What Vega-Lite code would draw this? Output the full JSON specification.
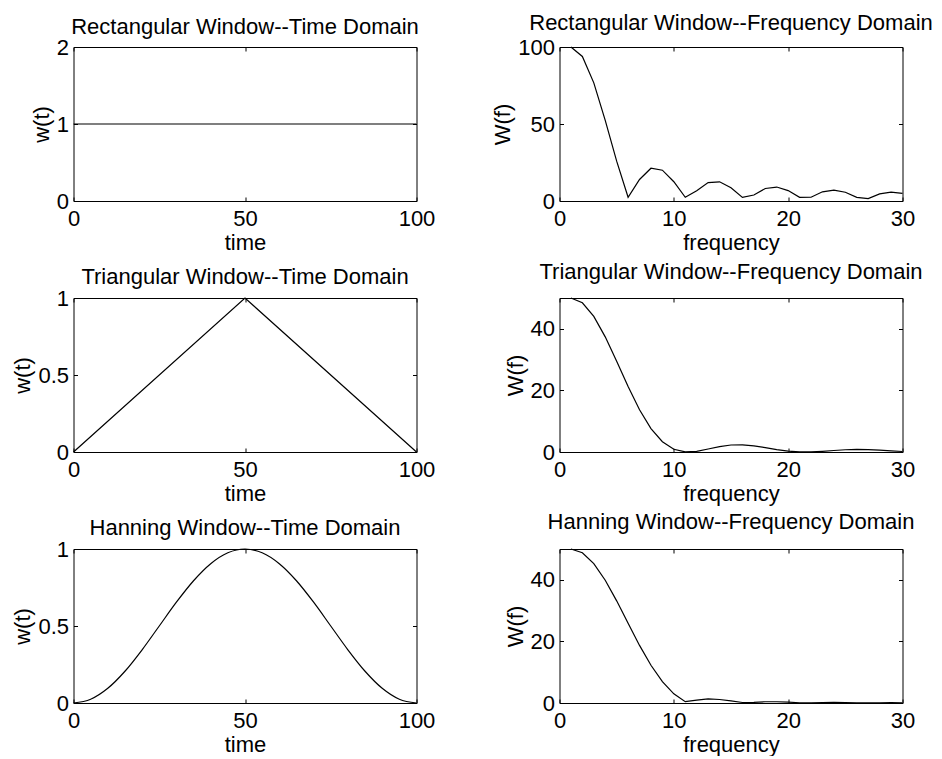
{
  "$schema": "https://vega.github.io/schema/vega-lite/v6.json",
  "padding": {"left": 10.5, "top": 11, "right": 0, "bottom": 0},
  "background": "white",
  "config": {
    "font": "Liberation Sans",
    "view": {"stroke": "black", "strokeWidth": 1},
    "title": {"font": "Liberation Sans", "fontSize": 22, "fontWeight": "normal", "color": "black", "offset": -2, "frame": "group"},
    "axis": {
      "labelFont": "Liberation Sans", "titleFont": "Liberation Sans",
      "labelFontSize": 22, "titleFontSize": 22, "titleFontWeight": "normal",
      "labelColor": "black", "titleColor": "black", "tickColor": "black",
      "tickSize": -4, "tickWidth": 1, "domain": false, "grid": false,
      "labelFlush": false, "labelOverlap": false, "labelBound": false,
      "minExtent": 0, "titlePadding": 3,
      "labelExpr": "toString(datum.value)"
    },
    "axisX": {"labelPadding": 11},
    "axisY": {"labelPadding": 9},
    "line": {"color": "black", "strokeWidth": 1.2, "clip": true}
  },
  "datasets": {
    "rectTime": [{"x": 0, "y": 1}, {"x": 100, "y": 1}],
    "rectFreq": [
      {"x": 1, "y": 100}, {"x": 2, "y": 93.84}, {"x": 3, "y": 76.72}, {"x": 4, "y": 52.36}, {"x": 5, "y": 25.85},
      {"x": 6, "y": 2.4}, {"x": 7, "y": 13.97}, {"x": 8, "y": 21.29}, {"x": 9, "y": 20.01}, {"x": 10, "y": 12.49},
      {"x": 11, "y": 2.39}, {"x": 12, "y": 6.67}, {"x": 13, "y": 11.99}, {"x": 14, "y": 12.46}, {"x": 15, "y": 8.64},
      {"x": 16, "y": 2.37}, {"x": 17, "y": 3.9}, {"x": 18, "y": 8.11}, {"x": 19, "y": 9.06}, {"x": 20, "y": 6.78},
      {"x": 21, "y": 2.37}, {"x": 22, "y": 2.44}, {"x": 23, "y": 5.97}, {"x": 24, "y": 7.11}, {"x": 25, "y": 5.67},
      {"x": 26, "y": 2.36}, {"x": 27, "y": 1.53}, {"x": 28, "y": 4.59}, {"x": 29, "y": 5.82}, {"x": 30, "y": 4.93}
    ],
    "triTime": [{"x": 0, "y": 0}, {"x": 50, "y": 1}, {"x": 100, "y": 0}],
    "triFreq": [
      {"x": 1, "y": 50}, {"x": 2, "y": 48.45}, {"x": 3, "y": 44.03}, {"x": 4, "y": 37.39}, {"x": 5, "y": 29.44},
      {"x": 6, "y": 21.23}, {"x": 7, "y": 13.71}, {"x": 8, "y": 7.61}, {"x": 9, "y": 3.34}, {"x": 10, "y": 0.905},
      {"x": 11, "y": 0.029}, {"x": 12, "y": 0.234}, {"x": 13, "y": 0.977}, {"x": 14, "y": 1.767}, {"x": 15, "y": 2.271},
      {"x": 16, "y": 2.339}, {"x": 17, "y": 2.007}, {"x": 18, "y": 1.42}, {"x": 19, "y": 0.783}, {"x": 20, "y": 0.29},
      {"x": 21, "y": 0.029}, {"x": 22, "y": 0.031}, {"x": 23, "y": 0.223}, {"x": 24, "y": 0.493}, {"x": 25, "y": 0.723},
      {"x": 26, "y": 0.828}, {"x": 27, "y": 0.781}, {"x": 28, "y": 0.608}, {"x": 29, "y": 0.376}, {"x": 30, "y": 0.161}
    ],
    "hannTime": [
      {"x": 0, "y": 0}, {"x": 5, "y": 0.02447}, {"x": 10, "y": 0.09549}, {"x": 15, "y": 0.20611}, {"x": 20, "y": 0.34549},
      {"x": 25, "y": 0.5}, {"x": 30, "y": 0.65451}, {"x": 35, "y": 0.79389}, {"x": 40, "y": 0.90451}, {"x": 45, "y": 0.97553},
      {"x": 50, "y": 1}, {"x": 55, "y": 0.97553}, {"x": 60, "y": 0.90451}, {"x": 65, "y": 0.79389}, {"x": 70, "y": 0.65451},
      {"x": 75, "y": 0.5}, {"x": 80, "y": 0.34549}, {"x": 85, "y": 0.20611}, {"x": 90, "y": 0.09549}, {"x": 95, "y": 0.02447},
      {"x": 100, "y": 0}
    ],
    "hannFreq": [
      {"x": 1, "y": 50}, {"x": 2, "y": 48.78}, {"x": 3, "y": 45.27}, {"x": 4, "y": 39.86}, {"x": 5, "y": 33.17},
      {"x": 6, "y": 25.87}, {"x": 7, "y": 18.7}, {"x": 8, "y": 12.24}, {"x": 9, "y": 6.94}, {"x": 10, "y": 2.99},
      {"x": 11, "y": 0.425}, {"x": 12, "y": 0.921}, {"x": 13, "y": 1.333}, {"x": 14, "y": 1.142}, {"x": 15, "y": 0.666},
      {"x": 16, "y": 0.156}, {"x": 17, "y": 0.222}, {"x": 18, "y": 0.404}, {"x": 19, "y": 0.398}, {"x": 20, "y": 0.265},
      {"x": 21, "y": 0.083}, {"x": 22, "y": 0.077}, {"x": 23, "y": 0.17}, {"x": 24, "y": 0.185}, {"x": 25, "y": 0.135},
      {"x": 26, "y": 0.051}, {"x": 27, "y": 0.031}, {"x": 28, "y": 0.085}, {"x": 29, "y": 0.1}, {"x": 30, "y": 0.079}
    ]
  },
  "columns": 2,
  "bounds": "flush",
  "spacing": {"row": 97, "column": 143},
  "concat": [
    {
      "title": {"text": "Rectangular Window--Time Domain", "offset": -3},
      "width": 343, "height": 154,
      "data": {"name": "rectTime"},
      "layer": [
        {"mark": {"type": "line"},
         "encoding": {
           "x": {"field": "x", "type": "quantitative", "scale": {"domain": [0, 100], "nice": false}, "axis": {"values": [0, 50, 100], "title": "time"}},
           "y": {"field": "y", "type": "quantitative", "scale": {"domain": [0, 2], "nice": false}, "axis": {"values": [0, 1, 2], "title": "w(t)"}}
         }},
        {"mark": {"type": "line", "strokeOpacity": 0},
         "encoding": {
           "x": {"field": "x", "type": "quantitative", "scale": {"domain": [0, 100], "nice": false}, "axis": {"orient": "top", "values": [0, 50, 100], "labels": false, "title": null}},
           "y": {"field": "y", "type": "quantitative", "scale": {"domain": [0, 2], "nice": false}, "axis": {"orient": "right", "values": [0, 1, 2], "labels": false, "title": null}}
         }}
      ],
      "resolve": {"axis": {"x": "independent", "y": "independent"}}
    },
    {
      "title": {"text": "Rectangular Window--Frequency Domain", "offset": 1},
      "width": 343, "height": 154,
      "data": {"name": "rectFreq"},
      "layer": [
        {"mark": {"type": "line"},
         "encoding": {
           "x": {"field": "x", "type": "quantitative", "scale": {"domain": [0, 30], "nice": false}, "axis": {"values": [0, 10, 20, 30], "title": "frequency"}},
           "y": {"field": "y", "type": "quantitative", "scale": {"domain": [0, 100], "nice": false}, "axis": {"values": [0, 50, 100], "title": "W(f)"}}
         }},
        {"mark": {"type": "line", "strokeOpacity": 0},
         "encoding": {
           "x": {"field": "x", "type": "quantitative", "scale": {"domain": [0, 30], "nice": false}, "axis": {"orient": "top", "values": [0, 10, 20, 30], "labels": false, "title": null}},
           "y": {"field": "y", "type": "quantitative", "scale": {"domain": [0, 100], "nice": false}, "axis": {"orient": "right", "values": [0, 50, 100], "labels": false, "title": null}}
         }}
      ],
      "resolve": {"axis": {"x": "independent", "y": "independent"}}
    },
    {
      "title": {"text": "Triangular Window--Time Domain"},
      "width": 343, "height": 154,
      "data": {"name": "triTime"},
      "layer": [
        {"mark": {"type": "line"},
         "encoding": {
           "x": {"field": "x", "type": "quantitative", "scale": {"domain": [0, 100], "nice": false}, "axis": {"values": [0, 50, 100], "title": "time"}},
           "y": {"field": "y", "type": "quantitative", "scale": {"domain": [0, 1], "nice": false}, "axis": {"values": [0, 0.5, 1], "title": "w(t)"}}
         }},
        {"mark": {"type": "line", "strokeOpacity": 0},
         "encoding": {
           "x": {"field": "x", "type": "quantitative", "scale": {"domain": [0, 100], "nice": false}, "axis": {"orient": "top", "values": [0, 50, 100], "labels": false, "title": null}},
           "y": {"field": "y", "type": "quantitative", "scale": {"domain": [0, 1], "nice": false}, "axis": {"orient": "right", "values": [0, 0.5, 1], "labels": false, "title": null}}
         }}
      ],
      "resolve": {"axis": {"x": "independent", "y": "independent"}}
    },
    {
      "title": {"text": "Triangular Window--Frequency Domain", "offset": 12},
      "width": 343, "height": 154,
      "data": {"name": "triFreq"},
      "layer": [
        {"mark": {"type": "line"},
         "encoding": {
           "x": {"field": "x", "type": "quantitative", "scale": {"domain": [0, 30], "nice": false}, "axis": {"values": [0, 10, 20, 30], "title": "frequency"}},
           "y": {"field": "y", "type": "quantitative", "scale": {"domain": [0, 50], "nice": false}, "axis": {"values": [0, 20, 40], "title": "W(f)"}}
         }},
        {"mark": {"type": "line", "strokeOpacity": 0},
         "encoding": {
           "x": {"field": "x", "type": "quantitative", "scale": {"domain": [0, 30], "nice": false}, "axis": {"orient": "top", "values": [0, 10, 20, 30], "labels": false, "title": null}},
           "y": {"field": "y", "type": "quantitative", "scale": {"domain": [0, 50], "nice": false}, "axis": {"orient": "right", "values": [0, 20, 40], "labels": false, "title": null}}
         }}
      ],
      "resolve": {"axis": {"x": "independent", "y": "independent"}}
    },
    {
      "title": {"text": "Hanning Window--Time Domain"},
      "width": 343, "height": 154,
      "data": {"name": "hannTime"},
      "layer": [
        {"mark": {"type": "line", "interpolate": "monotone"},
         "encoding": {
           "x": {"field": "x", "type": "quantitative", "scale": {"domain": [0, 100], "nice": false}, "axis": {"values": [0, 50, 100], "title": "time"}},
           "y": {"field": "y", "type": "quantitative", "scale": {"domain": [0, 1], "nice": false}, "axis": {"values": [0, 0.5, 1], "title": "w(t)"}}
         }},
        {"mark": {"type": "line", "strokeOpacity": 0},
         "encoding": {
           "x": {"field": "x", "type": "quantitative", "scale": {"domain": [0, 100], "nice": false}, "axis": {"orient": "top", "values": [0, 50, 100], "labels": false, "title": null}},
           "y": {"field": "y", "type": "quantitative", "scale": {"domain": [0, 1], "nice": false}, "axis": {"orient": "right", "values": [0, 0.5, 1], "labels": false, "title": null}}
         }}
      ],
      "resolve": {"axis": {"x": "independent", "y": "independent"}}
    },
    {
      "title": {"text": "Hanning Window--Frequency Domain", "offset": 13},
      "width": 343, "height": 154,
      "data": {"name": "hannFreq"},
      "layer": [
        {"mark": {"type": "line"},
         "encoding": {
           "x": {"field": "x", "type": "quantitative", "scale": {"domain": [0, 30], "nice": false}, "axis": {"values": [0, 10, 20, 30], "title": "frequency"}},
           "y": {"field": "y", "type": "quantitative", "scale": {"domain": [0, 50], "nice": false}, "axis": {"values": [0, 20, 40], "title": "W(f)"}}
         }},
        {"mark": {"type": "line", "strokeOpacity": 0},
         "encoding": {
           "x": {"field": "x", "type": "quantitative", "scale": {"domain": [0, 30], "nice": false}, "axis": {"orient": "top", "values": [0, 10, 20, 30], "labels": false, "title": null}},
           "y": {"field": "y", "type": "quantitative", "scale": {"domain": [0, 50], "nice": false}, "axis": {"orient": "right", "values": [0, 20, 40], "labels": false, "title": null}}
         }}
      ],
      "resolve": {"axis": {"x": "independent", "y": "independent"}}
    }
  ]
}
